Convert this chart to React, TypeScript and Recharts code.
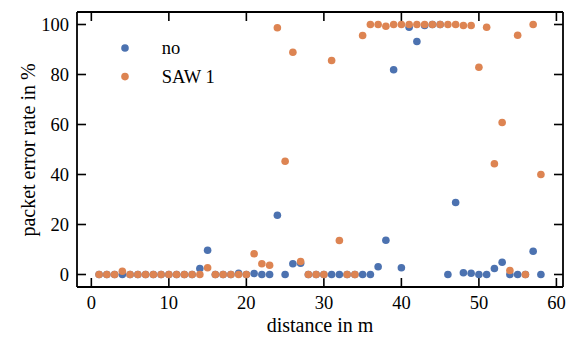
import { ScatterChart, Scatter, XAxis, YAxis, Legend, Label, ReferenceLine } from 'recharts';

const distance = [
  1, 2, 3, 4, 5, 6, 7, 8, 9, 10, 11, 12, 13, 14, 15, 16, 17, 18, 19, 20,
  21, 22, 23, 24, 25, 26, 27, 28, 29, 30, 31, 32, 33, 34, 35, 36, 37, 38, 39, 40,
  41, 42, 43, 44, 45, 46, 47, 48, 49, 50, 51, 52, 53, 54, 55, 56, 57, 58,
];
// packet error rate in %, no SAW
const perNo = [
  0, 0, 0, 0, 0, 0, 0, 0, 0, 0, 0, 0, 0, 2.4, 9.7, 0, 0, 0, 0.5, 0,
  0.4, 0, 0, 23.7, 0, 4.3, 4.5, 0, 0, 0, 0, 0, 0, 0, 0, 0, 3.1, 13.7, 81.9, 2.7,
  98.9, 93.2, 99.6, 100, 100, 0, 28.8, 0.7, 0.5, 0, 0, 2.4, 4.9, 0, 0, 0, 9.3, 0,
];
// packet error rate in %, SAW 1
const perSaw1 = [
  0, 0, 0, 1.3, 0, 0, 0, 0, 0, 0, 0, 0, 0, 0, 2.7, 0, 0, 0, 0, 0,
  8.3, 4.3, 3.7, 98.7, 45.3, 88.9, 5.2, 0, 0, 0, 85.6, 13.6, 0, 0, 95.6, 100, 100, 99.3, 100, 100,
  100, 100, 100, 100, 100, 100, 100, 99.6, 99.6, 82.9, 98.9, 44.3, 60.8, 1.6, 95.7, 0, 100, 40,
];
const xTicks = [0, 10, 20, 30, 40, 50, 60];
const yTicks = [0, 20, 40, 60, 80, 100];

const BLUE = '#4C72B0';
const ORANGE = '#DD8452';
const FONT = 'Liberation Serif';
const X_DOMAIN = [-1.85, 60.85];
const Y_DOMAIN = [-5, 105];
// inward tick length (~9px) expressed in axis units
const TICK_X = 1.16;
const TICK_Y = 3.6;

const noData = distance.map((d, i) => ({ x: d, y: perNo[i] }));
const sawData = distance.map((d, i) => ({ x: d, y: perSaw1[i] }));

const dot = (color: string) => (p: any) => <circle cx={p.cx} cy={p.cy} r={3.8} fill={color} />;

const axisLine = { stroke: '#000', strokeWidth: 1.8 };
const tickStroke = { stroke: '#000', strokeWidth: 1.6 };

const BottomTick = (p: any) => (
  <text x={p.x} y={p.y + 22} textAnchor="middle" fontFamily={FONT} fontSize={18.5} fill="#000">
    {p.payload.value}
  </text>
);
const LeftTick = (p: any) => (
  <text x={p.x - 8} y={p.y + 6} textAnchor="end" fontFamily={FONT} fontSize={18.5} fill="#000">
    {p.payload.value}
  </text>
);

function LegendBox() {
  const items = [
    { name: 'no', color: BLUE },
    { name: 'SAW 1', color: ORANGE },
  ];
  return (
    <svg width={200} height={60} style={{ overflow: 'visible', display: 'block' }}>
      {items.map((it, i) => (
        <g key={it.name}>
          <circle cx={5} cy={10 + i * 28.6} r={3.8} fill={it.color} />
          <text x={41.7} y={16 + i * 28.6} fontFamily={FONT} fontSize={18.5} fill="#000">
            {it.name}
          </text>
        </g>
      ))}
    </svg>
  );
}

export default function App() {
  return (
    <div style={{ margin: -8, width: 579, height: 341, background: '#fff' }}>
      <ScatterChart width={579} height={341} margin={{ top: 11, right: 15, bottom: 0, left: 0 }}>
        <XAxis
          dataKey="x"
          type="number"
          domain={X_DOMAIN}
          ticks={xTicks}
          interval={0}
          allowDataOverflow
          height={54}
          tickSize={0}
          tickMargin={0}
          tick={BottomTick}
          tickLine={false}
          axisLine={axisLine}
        >
          <Label
            content={() => (
              <text x={320} y={332} textAnchor="middle" fontFamily={FONT} fontSize={20} fill="#000">
                distance in m
              </text>
            )}
          />
        </XAxis>
        <XAxis
          xAxisId="t"
          orientation="top"
          dataKey="x"
          type="number"
          domain={X_DOMAIN}
          ticks={xTicks}
          interval={0}
          allowDataOverflow
          height={1}
          tick={false}
          tickLine={false}
          axisLine={axisLine}
        />
        <YAxis
          dataKey="y"
          type="number"
          domain={Y_DOMAIN}
          ticks={yTicks}
          interval={0}
          allowDataOverflow
          width={77}
          tickSize={0}
          tickMargin={0}
          tick={LeftTick}
          tickLine={false}
          axisLine={axisLine}
        >
          <Label
            content={() => (
              <text
                x={35}
                y={150}
                textAnchor="middle"
                transform="rotate(-90 35 150)"
                fontFamily={FONT}
                fontSize={20}
                fill="#000"
              >
                packet error rate in %
              </text>
            )}
          />
        </YAxis>
        <YAxis
          yAxisId="r"
          orientation="right"
          dataKey="y"
          type="number"
          domain={Y_DOMAIN}
          ticks={yTicks}
          interval={0}
          allowDataOverflow
          width={1}
          tick={false}
          tickLine={false}
          axisLine={axisLine}
        />
        {xTicks.map((t) => (
          <ReferenceLine key={`b${t}`} ifOverflow="visible" {...tickStroke}
            segment={[{ x: t, y: Y_DOMAIN[0] }, { x: t, y: Y_DOMAIN[0] + TICK_Y }]} />
        ))}
        {xTicks.map((t) => (
          <ReferenceLine key={`t${t}`} ifOverflow="visible" {...tickStroke}
            segment={[{ x: t, y: Y_DOMAIN[1] }, { x: t, y: Y_DOMAIN[1] - TICK_Y }]} />
        ))}
        {yTicks.map((t) => (
          <ReferenceLine key={`l${t}`} ifOverflow="visible" {...tickStroke}
            segment={[{ x: X_DOMAIN[0], y: t }, { x: X_DOMAIN[0] + TICK_X, y: t }]} />
        ))}
        {yTicks.map((t) => (
          <ReferenceLine key={`r${t}`} ifOverflow="visible" {...tickStroke}
            segment={[{ x: X_DOMAIN[1], y: t }, { x: X_DOMAIN[1] - TICK_X, y: t }]} />
        ))}
        <Legend
          layout="vertical"
          align="center"
          verticalAlign="middle"
          wrapperStyle={{ left: 120, top: 37.7, width: 200, height: 60 }}
          content={() => <LegendBox />}
        />
        <Scatter name="no" data={noData} fill={BLUE} shape={dot(BLUE)} isAnimationActive={false} />
        {/* same domains on top/right axes, so SAW 1 lands on the same scale */}
        <Scatter name="SAW 1" data={sawData} xAxisId="t" yAxisId="r" fill={ORANGE} shape={dot(ORANGE)} isAnimationActive={false} />
      </ScatterChart>
    </div>
  );
}
